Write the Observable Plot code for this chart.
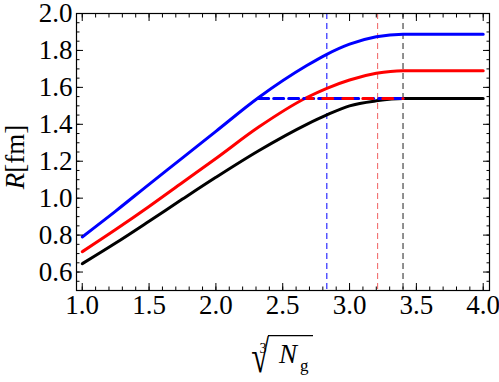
<!DOCTYPE html>
<html><head><meta charset="utf-8">
<script src="https://cdn.jsdelivr.net/npm/d3@7"></script>
<script src="https://cdn.jsdelivr.net/npm/@observablehq/plot@0.6"></script>
<style>body{margin:0;background:#fff} #chart svg{display:block}</style>
</head><body><div id="chart"></div>
<script>
// x = cube root of N_g
const xValues   = [1.0, 1.25, 1.5, 1.75, 2.0, 2.32, 2.68, 2.83, 3.0, 3.2, 3.4, 4.0];
const blueR     = [0.79, 0.93, 1.075, 1.218, 1.362, 1.545, 1.718, 1.779, 1.834, 1.874, 1.888, 1.888];
const redR      = [0.71, 0.83, 0.955, 1.085, 1.215, 1.385, 1.545, 1.595, 1.64, 1.676, 1.69, 1.69];
const blackR    = [0.645, 0.757, 0.875, 0.995, 1.113, 1.257, 1.40, 1.451, 1.50, 1.527, 1.54, 1.54];

// dashed horizontal level and its extents
const levelR = 1.54;
const blueDashX = [2.32, 3.40];
const redDashX  = [2.68, 3.40];

// vertical dashed markers
const vBlueX = [2.83];
const vRedX  = [3.21];
const vBlackX = [3.40];

const xTickValues = [1.0, 1.5, 2.0, 2.5, 3.0, 3.5, 4.0];
const yTickValues = [0.6, 0.8, 1.0, 1.2, 1.4, 1.6, 1.8, 2.0];

const blue = xValues.map((x, i) => ({x, r: blueR[i]}));
const red = xValues.map((x, i) => ({x, r: redR[i]}));
const black = xValues.map((x, i) => ({x, r: blackR[i]}));
const blueDash = blueDashX.map(x => ({x, r: levelR}));
const redDash = redDashX.map(x => ({x, r: levelR}));

const fmt = d3.format(".1f");
const font = "Liberation Serif";

const plot = Plot.plot({
  width: 499, height: 382,
  marginLeft: 76, marginRight: 10, marginTop: 13, marginBottom: 92,
  style: {fontFamily: font, fontSize: "27px", color: "#000", background: "#fff"},
  x: {domain: [0.957, 4.047], label: null},
  y: {domain: [0.5, 2.0], label: null},
  marks: [
    Plot.ruleX(vBlueX, {x: d => d, stroke: "#0000ff", strokeWidth: 1, strokeDasharray: "6,4"}),
    Plot.ruleX(vRedX, {x: d => d, stroke: "#f06060", strokeWidth: 1, strokeDasharray: "6,4"}),
    Plot.ruleX(vBlackX, {x: d => d, stroke: "#222", strokeWidth: 1, strokeDasharray: "6,4"}),
    Plot.line(black, {x: "x", y: "r", stroke: "#000", strokeWidth: 3, curve: "monotone-x"}),
    Plot.line(red, {x: "x", y: "r", stroke: "#ff0000", strokeWidth: 3, curve: "monotone-x"}),
    Plot.line(blue, {x: "x", y: "r", stroke: "#0000ff", strokeWidth: 3, curve: "monotone-x"}),
    Plot.line(blueDash, {x: "x", y: "r", stroke: "#0000ff", strokeWidth: 3, strokeDasharray: "10,5"}),
    Plot.line(redDash, {x: "x", y: "r", stroke: "#ff0000", strokeWidth: 3, strokeDasharray: "10,10", strokeDashoffset: 4}),
    Plot.frame({stroke: "#000", strokeWidth: 1.2}),
    // minor ticks
    Plot.axisX({anchor: "bottom", ticks: 30, tickSize: -3.5, tickFormat: () => "", label: null}),
    Plot.axisX({anchor: "top", ticks: 30, tickSize: -3.5, tickFormat: () => "", label: null}),
    Plot.axisY({anchor: "left", ticks: 30, tickSize: -3.5, tickFormat: () => "", label: null}),
    Plot.axisY({anchor: "right", ticks: 30, tickSize: -3.5, tickFormat: () => "", label: null}),
    // major ticks
    Plot.axisX({anchor: "bottom", ticks: xTickValues, tickSize: -7, tickPadding: 11, tickFormat: fmt, label: null, fontFamily: font, fontSize: 27}),
    Plot.axisX({anchor: "top", ticks: xTickValues, tickSize: -7, tickFormat: () => "", label: null}),
    Plot.axisY({anchor: "left", ticks: yTickValues, tickSize: -7, tickPadding: 11, tickFormat: fmt, label: null, fontFamily: font, fontSize: 27}),
    Plot.axisY({anchor: "right", ticks: yTickValues, tickSize: -7, tickFormat: () => "", label: null})
  ]
});

const svg = d3.select(plot);
svg.selectAll("text").style("font-family", font).style("font-variant", "normal");

// y axis title: R[fm]
const yt = svg.append("text")
  .attr("transform", "translate(24,157) rotate(-90)")
  .attr("text-anchor", "middle")
  .style("font-family", font).attr("font-size", 27).attr("fill", "#000");
yt.append("tspan").attr("font-style", "italic").text("R");
yt.append("tspan").text("[fm]");

document.getElementById("chart").appendChild(plot);

// x axis title: cube root of N_g (radical glyph fitted to its ink box)
const xg = svg.append("g").style("font-family", font).attr("text-anchor", "start").attr("fill", "#000");
const rad = "\u221A";
const ctx = document.createElement("canvas").getContext("2d");
ctx.font = "40px 'Liberation Serif'";
ctx.textAlign = "start";
const m = ctx.measureText(rad);
const inkL = -m.actualBoundingBoxLeft, inkR = m.actualBoundingBoxRight;
const inkT = -m.actualBoundingBoxAscent, inkB = m.actualBoundingBoxDescent;
const box = {x0: 252, x1: 269, y0: 335, y1: 373};
const sx = (box.x1 - box.x0) / (inkR - inkL), sy = (box.y1 - box.y0) / (inkB - inkT);
xg.append("text")
  .attr("transform", `translate(${box.x0 - inkL * sx},${box.y0 - inkT * sy}) scale(${sx},${sy})`)
  .attr("font-size", 40).text(rad);
xg.append("text").attr("x", 259.5).attr("y", 353).attr("font-size", 14).text("3");
xg.append("text").attr("x", 279).attr("y", 363).attr("font-size", 27).attr("font-style", "italic").text("N");
xg.append("text").attr("x", 300).attr("y", 371).attr("font-size", 17).text("g");
xg.append("line").attr("x1", 268).attr("x2", 313).attr("y1", 335.6).attr("y2", 335.6)
  .attr("stroke", "#000").attr("stroke-width", 1.3);
</script>
</body></html>
